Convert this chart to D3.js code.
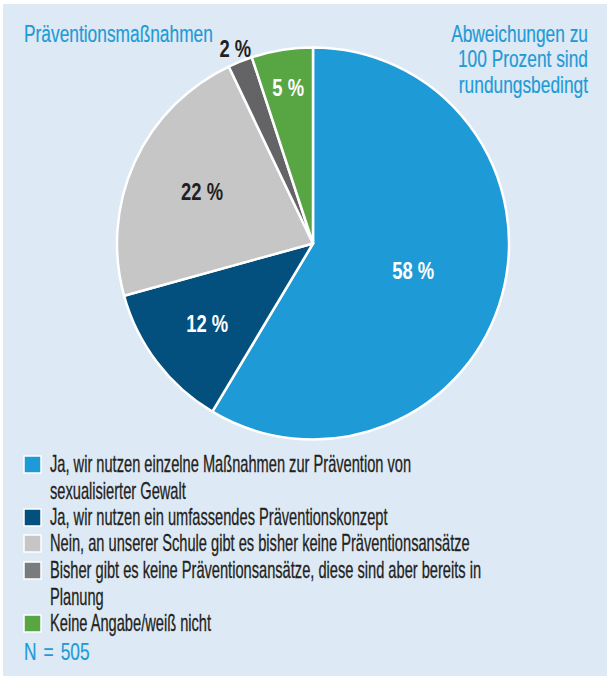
<!DOCTYPE html>
<html>
<head>
<meta charset="utf-8">
<script src="https://cdn.jsdelivr.net/npm/d3@7"></script>
<style>
  html, body { margin: 0; padding: 0; background: #ffffff; }
  svg { display: block; }
</style>
</head>
<body>
<svg id="chart" width="608" height="679"></svg>
<script>
// Survey answers on prevention of sexualised violence at schools
const categories = [
  "Ja, wir nutzen einzelne Maßnahmen zur Prävention von sexualisierter Gewalt",
  "Ja, wir nutzen ein umfassendes Präventionskonzept",
  "Nein, an unserer Schule gibt es bisher keine Präventionsansätze",
  "Bisher gibt es keine Präventionsansätze, diese sind aber bereits in Planung",
  "Keine Angabe/weiß nicht"
];
const values = [58, 12, 22, 2, 5];
const legendLines = [
  ["Ja, wir nutzen einzelne Maßnahmen zur Prävention von", "sexualisierter Gewalt"],
  ["Ja, wir nutzen ein umfassendes Präventionskonzept"],
  ["Nein, an unserer Schule gibt es bisher keine Präventionsansätze"],
  ["Bisher gibt es keine Präventionsansätze, diese sind aber bereits in", "Planung"],
  ["Keine Angabe/weiß nicht"]
];
const title = "Präventionsmaßnahmen";
const noteLines = ["Abweichungen zu", "100 Prozent sind", "rundungsbedingt"];
const sampleNote = "N = 505";

// styling
const sliceColors = ["#1e9ad6", "#03507f", "#c6c6c7", "#646466", "#58a544"];
const legendColors = ["#1e9ad6", "#03507f", "#c6c6c7", "#7a7b7e", "#58a544"];
const labelColors = ["#ffffff", "#ffffff", "#231f20", "#231f20", "#ffffff"];
const labelRadius = [104, 133, 122, 209, 157];
const accent = "#1e9ad6";
const ink = "#231f20";
const FONT = "'Liberation Sans Narrow', 'Arial Narrow', 'Liberation Sans', sans-serif";

const svg = d3.select("#chart");

// panel background
svg.append("rect")
  .attr("x", 3).attr("y", 4).attr("width", 604).attr("height", 672)
  .attr("fill", "#dde9f5");

// horizontal squeeze so the sans face reads like a condensed one
function squeezeFor(str, size, weight, width) {
  const p = svg.append("text")
    .attr("font-family", FONT).attr("font-size", size)
    .attr("font-weight", weight).text(str);
  const w = p.node().getComputedTextLength();
  p.remove();
  return width / w;
}
const LEG_SIZE = 23;
const BLUE_SIZE = 23.5;
const PCT_SIZE = 23;
const sxLeg = squeezeFor(legendLines[2][0], LEG_SIZE, "normal", 420);
const sxBlue = squeezeFor(title, BLUE_SIZE, "normal", 189);
const sxPct = squeezeFor("58 %", PCT_SIZE, "bold", 42);

function label(g, x, y, str, opts) {
  const t = g.append("text")
    .attr("transform", `translate(${x},${y}) scale(${opts.sx},1)`)
    .attr("font-family", FONT)
    .attr("font-size", opts.size)
    .attr("font-weight", opts.weight || "normal")
    .attr("fill", opts.fill)
    .attr("text-anchor", opts.anchor || "start")
    .text(str);
  if (opts.heavy) {
    t.attr("stroke", opts.fill).attr("stroke-width", opts.heavy).attr("paint-order", "stroke");
  }
  if (opts.wordSpacing) t.attr("word-spacing", opts.wordSpacing);
  return t;
}

// pie
const cx = 313, cy = 243.5, R = 196;
const pie = d3.pie().sort(null).value(d => d);
const arcs = pie(values);
const arc = d3.arc().innerRadius(0).outerRadius(R);

const gPie = svg.append("g").attr("transform", `translate(${cx},${cy})`);
gPie.selectAll("path.slice")
  .data(arcs)
  .join("path")
  .attr("class", "slice")
  .attr("d", arc)
  .attr("fill", (d, i) => sliceColors[i])
  .attr("stroke", "#ffffff")
  .attr("stroke-width", 2.5)
  .attr("stroke-linejoin", "round");

arcs.forEach((d, i) => {
  const a = (d.startAngle + d.endAngle) / 2;
  const r = labelRadius[i];
  const x = Math.sin(a) * r;
  const y = -Math.cos(a) * r;
  label(gPie, x, y + 7.5, values[i] + " %", {
    size: PCT_SIZE, weight: "bold", fill: labelColors[i], anchor: "middle", sx: sxPct
  });
});

// title and rounding note
label(svg, 24, 41.5, title, { size: BLUE_SIZE, fill: accent, heavy: 0.2, sx: sxBlue });
noteLines.forEach((t, i) => {
  label(svg, 588, 41.5 + i * 25.5, t, { size: BLUE_SIZE, fill: accent, anchor: "end", heavy: 0.2, sx: sxBlue });
});

// legend
const gLeg = svg.append("g");
const rowTop = [472, 525, 551, 578, 631];
legendLines.forEach((lines, i) => {
  gLeg.append("rect")
    .attr("x", 24).attr("y", rowTop[i] - 16)
    .attr("width", 17).attr("height", 17)
    .attr("fill", legendColors[i])
    .attr("stroke", "#ffffff")
    .attr("stroke-width", 1.5);
  lines.forEach((t, j) => {
    label(gLeg, 50, rowTop[i] + j * 26.5, t, { size: LEG_SIZE, fill: ink, heavy: 0.3, sx: sxLeg });
  });
});
label(svg, 24, 660, sampleNote, { size: BLUE_SIZE, fill: accent, heavy: 0.2, wordSpacing: 3, sx: sxBlue });
</script>
</body>
</html>
